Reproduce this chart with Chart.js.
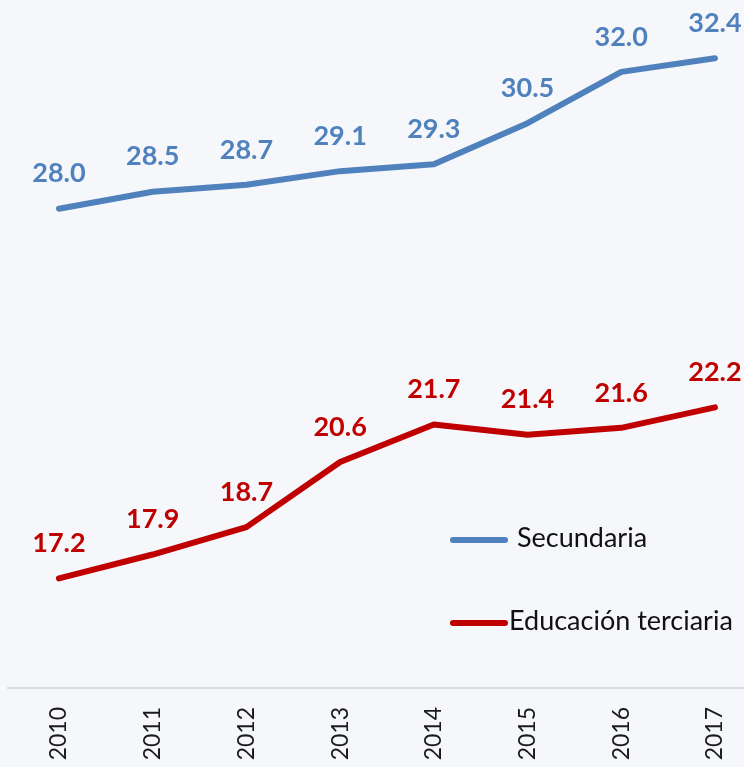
<!DOCTYPE html>
<html>
<head>
<meta charset="utf-8">
<script src="https://cdn.jsdelivr.net/npm/chart.js@4"></script>
<style>
    html, body { margin: 0; padding: 0; background: #f5f7fb; }
    #wrap { width: 744px; height: 767px; }
</style>
</head>
<body>
<div id="wrap"><canvas id="eduChart" width="744" height="767"></canvas></div>
<script>
/* ================================
   Data
================================ */
const years = [2010, 2011, 2012, 2013, 2014, 2015, 2016, 2017];
const secundaria = [28.0, 28.5, 28.7, 29.1, 29.3, 30.5, 32.0, 32.4];
const terciaria = [17.2, 17.9, 18.7, 20.6, 21.7, 21.4, 21.6, 22.2];
const seriesNames = ["Secundaria", "Educación terciaria"];
const seriesColors = ["#4f81bd", "#c00000"];

function toPoints(values) {
    return values.map(function (v, i) {
        return { x: years[i], y: v };
    });
}

/* ================================
   Plugins: background, value labels, legend
================================ */
const bgPlugin = {
    id: "bg",
    beforeDraw: function (chart) {
        const ctx = chart.ctx;
        ctx.save();
        ctx.fillStyle = "#f5f7fb";
        ctx.fillRect(0, 0, chart.width, chart.height);
        ctx.restore();
    },
};

const valueLabels = {
    id: "valueLabels",
    afterDatasetsDraw: function (chart) {
        const ctx = chart.ctx;
        ctx.save();
        ctx.font = "bold 27px Lato";
        ctx.textAlign = "center";
        ctx.textBaseline = "middle";
        chart.data.datasets.forEach(function (ds, i) {
            const meta = chart.getDatasetMeta(i);
            ctx.fillStyle = ds.borderColor;
            meta.data.forEach(function (pt, j) {
                ctx.fillText(ds.data[j].y.toFixed(1), pt.x, pt.y - 35);
            });
        });
        ctx.restore();
    },
};

const innerLegend = {
    id: "innerLegend",
    afterDraw: function (chart) {
        const ctx = chart.ctx;
        const rows = [538, 621];
        ctx.save();
        ctx.font = "27px Lato";
        ctx.textAlign = "left";
        ctx.textBaseline = "middle";
        chart.data.datasets.forEach(function (ds, i) {
            const y = rows[i];
            ctx.strokeStyle = ds.borderColor;
            ctx.lineWidth = 6;
            ctx.lineCap = "round";
            ctx.beginPath();
            ctx.moveTo(453, y + 2);
            ctx.lineTo(505, y + 2);
            ctx.stroke();
            ctx.fillStyle = "#111111";
            ctx.fillText(ds.label, i === 0 ? 517 : 509, y);
        });
        ctx.restore();
    },
};

/* ================================
   Chart
================================ */
const ctx = document.getElementById("eduChart").getContext("2d");
new Chart(ctx, {
    type: "line",
    data: {
        datasets: [{
            label: seriesNames[0],
            data: toPoints(secundaria),
            borderColor: seriesColors[0],
            borderWidth: 6,
            pointRadius: 0,
            tension: 0,
            borderCapStyle: "round",
            borderJoinStyle: "round",
            clip: false,
        }, {
            label: seriesNames[1],
            data: toPoints(terciaria),
            borderColor: seriesColors[1],
            borderWidth: 6,
            pointRadius: 0,
            tension: 0,
            borderCapStyle: "round",
            borderJoinStyle: "round",
            clip: false,
        }, ],
    },
    options: {
        responsive: false,
        animation: false,
        layout: {
            padding: { left: 8, right: 0, top: 0, bottom: 0 },
        },
        plugins: {
            legend: { display: false },
            tooltip: { enabled: false },
        },
        scales: {
            x: {
                type: "linear",
                min: 2009.4558,
                max: 2017.31,
                afterBuildTicks: function (scale) {
                    scale.ticks = years.map(function (y) {
                        return { value: y };
                    });
                },
                afterFit: function (scale) {
                    scale.height = 79;
                    scale.paddingLeft = 0;
                    scale.paddingRight = 0;
                },
                grid: { display: false, drawTicks: false },
                border: { display: true, color: "#dcdde0", width: 2 },
                ticks: {
                    minRotation: 90,
                    maxRotation: 90,
                    padding: 19,
                    color: "#1a1a1a",
                    font: { family: "Lato", size: 23 },
                    callback: function (value) {
                        return String(value);
                    },
                },
            },
            y: {
                display: false,
                min: 14,
                max: 34.1,
            },
        },
    },
    plugins: [bgPlugin, valueLabels, innerLegend],
});
</script>
</body>
</html>
